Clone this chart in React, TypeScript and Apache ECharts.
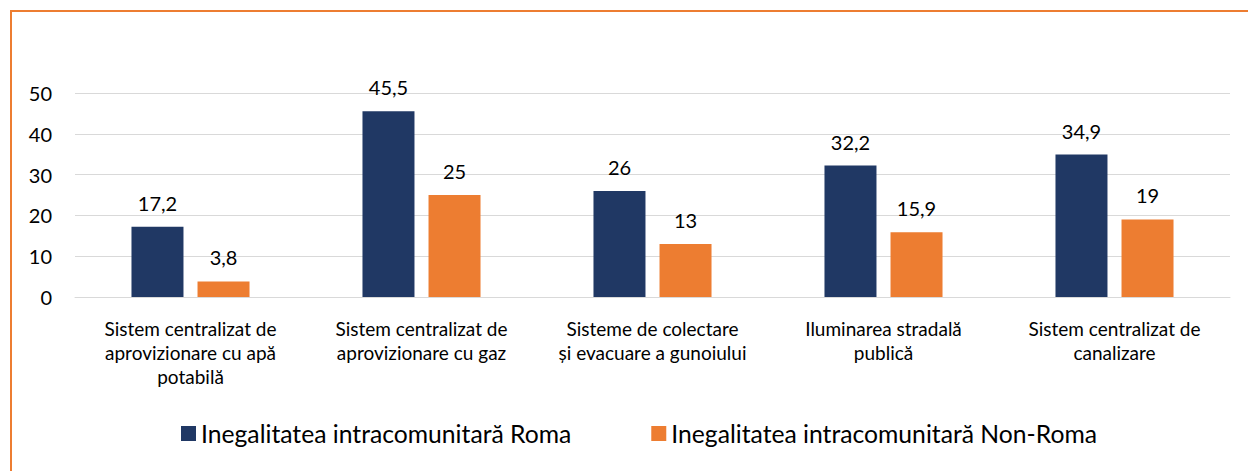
import React, { useEffect, useRef } from "react";
import * as echarts from "echarts";

const categories = [
  "Sistem centralizat de\naprovizionare cu apă\npotabilă",
  "Sistem centralizat de\naprovizionare cu gaz",
  "Sisteme de colectare\nși evacuare a gunoiului",
  "Iluminarea stradală\npublică",
  "Sistem centralizat de\ncanalizare",
];
const romaValues = [17.2, 45.5, 26, 32.2, 34.9];
const nonRomaValues = [3.8, 25, 13, 15.9, 19];
const seriesNames = ["Inegalitatea intracomunitară Roma", "Inegalitatea intracomunitară Non-Roma"];

const FONT = "Lato";
const fmt = (v: number) => String(v).replace(".", ",");

export default function App() {
  const ref = useRef<HTMLDivElement>(null);
  useEffect(() => {
    if (!ref.current) return;
    const chart = echarts.init(ref.current, null, { renderer: "svg" });
    const label = {
      show: true,
      position: "top" as const,
      distance: 14,
      color: "#000",
      fontSize: 20,
      fontFamily: FONT,
      formatter: (p: any) => fmt(p.value),
    };
    chart.setOption({
      animation: false,
      textStyle: { fontFamily: FONT },
      graphic: [
        { type: "line", shape: { x1: 10, y1: 11, x2: 1248, y2: 11 }, style: { stroke: "#ED7D31", lineWidth: 2 } },
        { type: "line", shape: { x1: 11, y1: 11, x2: 11, y2: 471 }, style: { stroke: "#ED7D31", lineWidth: 2 } },
      ],
      grid: { left: 75, right: 18, top: 93, bottom: 174, containLabel: false },
      legend: {
        data: seriesNames,
        bottom: 20,
        left: 176,
        itemWidth: 15,
        itemHeight: 15,
        itemGap: 80,
        icon: "rect",
        textStyle: { fontSize: 24.7, fontFamily: FONT, color: "#000" },
      },
      xAxis: {
        type: "category",
        data: categories,
        axisLine: { show: true, lineStyle: { color: "#D9D9D9", width: 1 } },
        axisTick: { show: false },
        axisLabel: { color: "#000", fontSize: 19, fontFamily: FONT, lineHeight: 24, margin: 19, interval: 0 },
      },
      yAxis: {
        type: "value",
        min: 0,
        max: 50,
        interval: 10,
        axisLine: { show: false },
        axisTick: { show: false },
        axisLabel: { color: "#000", fontSize: 20, fontFamily: FONT, margin: 23 },
        splitLine: { lineStyle: { color: "#D9D9D9", width: 1 } },
      },
      series: [
        {
          name: seriesNames[0],
          type: "bar",
          data: romaValues,
          barWidth: 52,
          barGap: "27%",
          itemStyle: { color: "#203864" },
          label,
        },
        {
          name: seriesNames[1],
          type: "bar",
          data: nonRomaValues,
          barWidth: 52,
          barGap: "27%",
          itemStyle: { color: "#ED7D31" },
          label,
        },
      ],
    });
    return () => chart.dispose();
  }, []);
  return (
    <div
      ref={ref}
      style={{ position: "absolute", left: 0, top: 0, width: 1248, height: 471, background: "#fff" }}
    />
  );
}
